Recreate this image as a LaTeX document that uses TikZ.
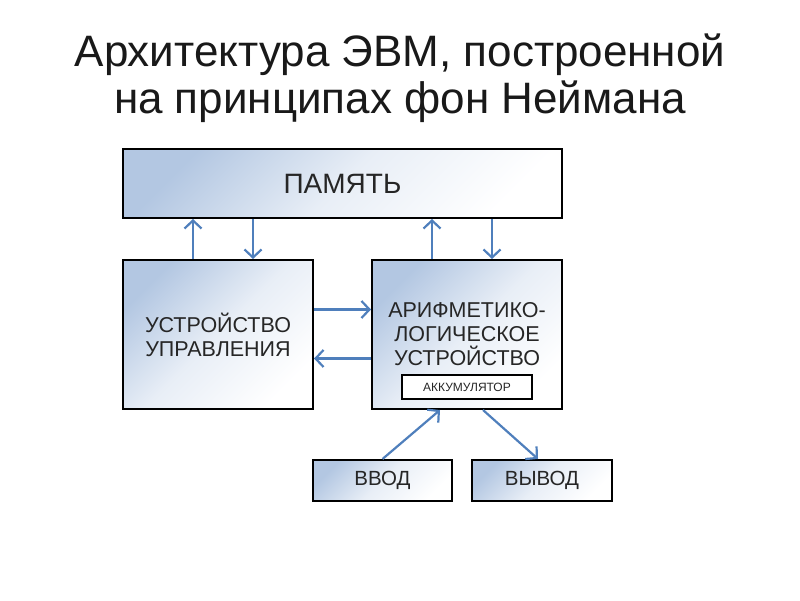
\documentclass[tikz,border=0pt]{standalone}
\usepackage{fontspec}
\setmainfont{Liberation Sans}
\usetikzlibrary{positioning, arrows.meta}
\definecolor{boxblue}{HTML}{B3C7E2}
\definecolor{arrowblue}{HTML}{4F7FBC}
\definecolor{textgray}{HTML}{262626}
\tikzstyle{title} = [text=black!90, font=\fontsize{44}{50}\selectfont, anchor=base, inner sep=0pt]
\tikzstyle{block} = [rectangle, draw=black, line width=2pt, top color=boxblue, bottom color=white, middle color=boxblue!30!white, shading angle=45, text=textgray, align=center, inner sep=0pt]
\tikzstyle{accbox} = [rectangle, draw=black, line width=1.8pt, fill=white, text=textgray, inner sep=0pt, font=\fontsize{12}{14}\selectfont]
\tikzstyle{arrow} = [arrowblue, line width=2.2pt, -{Straight Barb[length=8pt,width=17pt]}]

\begin{document}
\begin{tikzpicture}[x=1pt, y=1pt]
\useasboundingbox (0,0) rectangle (800,600);

\node (title1) [title] at (400,533) {Архитектура ЭВМ, построенной};
\node (title2) [title] at (400,486) {на принципах фон Неймана};

\node (mem) [block, minimum width=439pt, minimum height=69pt, font=\fontsize{28}{32}\selectfont] at (342.5,416.5) {ПАМЯТЬ};
\node (uu) [block, minimum width=190pt, minimum height=149pt, font=\fontsize{21.5}{24}\selectfont, below=40pt of mem.south west, anchor=north west] {УСТРОЙСТВО\\УПРАВЛЕНИЯ};
\node (alu) [block, minimum width=190pt, minimum height=149pt, font=\fontsize{21.5}{24}\selectfont, below=40pt of mem.south east, anchor=north east] {АРИФМЕТИКО-\\ЛОГИЧЕСКОЕ\\УСТРОЙСТВО};
\node (akk) [accbox, minimum width=130pt, minimum height=24pt, above=10pt of alu.south] {АККУМУЛЯТОР};
\node (vvod) [block, minimum width=139pt, minimum height=41pt, font=\fontsize{20.5}{24}\selectfont, below=49pt of uu.south east, anchor=north west, xshift=-2pt] {ВВОД};
\node (vyvod) [block, minimum width=140pt, minimum height=41pt, font=\fontsize{20.5}{24}\selectfont, right=18pt of vvod] {ВЫВОД};

\draw [arrow] ([xshift=-25pt]uu.north) -- ([xshift=-25pt]uu.north |- mem.south);
\draw [arrow] ([xshift=35pt]uu.north |- mem.south) -- ([xshift=35pt]uu.north);
\draw [arrow] ([xshift=-35pt]alu.north) -- ([xshift=-35pt]alu.north |- mem.south);
\draw [arrow] ([xshift=25pt]alu.north |- mem.south) -- ([xshift=25pt]alu.north);
\draw [arrow] ([yshift=25pt]uu.east) -- ([yshift=25pt]alu.west);
\draw [arrow] ([yshift=-24pt]alu.west) -- ([yshift=-24pt]uu.east);
\draw [arrow] (vvod.north) -- ([xshift=-27pt]alu.south);
\draw [arrow] ([xshift=16pt]alu.south) -- ([xshift=-4pt]vyvod.north);

\end{tikzpicture}
\end{document}
